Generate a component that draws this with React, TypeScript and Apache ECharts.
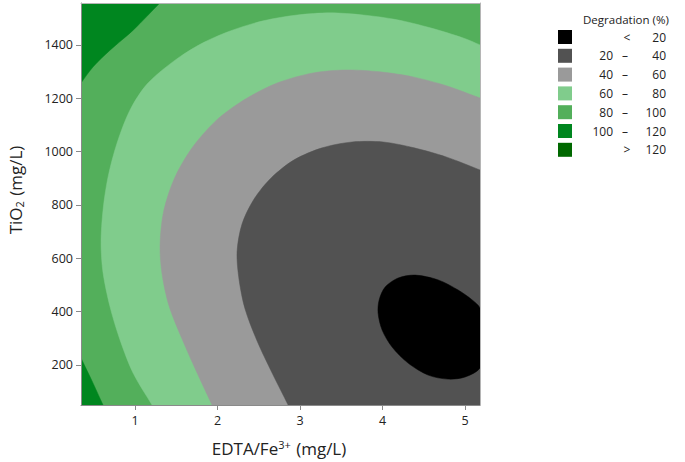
import React, { useEffect, useRef } from "react";
import * as echarts from "echarts";

// Axis ranges and ticks
const edtaRange = [0.345, 5.18];
const tio2Range = [50, 1557];
const edtaTicks = [1, 2, 3, 4, 5];
const tio2Ticks = [200, 400, 600, 800, 1000, 1200, 1400];

// Legend bands
const legendLow = ["", "20", "40", "60", "80", "100", ""];
const legendHigh = ["20", "40", "60", "80", "100", "120", "120"];
const legendPrefix = ["<", "", "", "", "", "", ">"];
const bandColors = ["#000000", "#525252", "#9a9a9a", "#80cc8c", "#53af5b", "#00861f", "#006800"];

// Contour region outlines [EDTA/Fe3+, TiO2]
// (points just past the frame continue each curve; the plot is clipped to the frame)
const region100TopLeft = [
  [0.0, 1800], [1.485, 1614], [1.3, 1557], [0.98, 1456], [0.7, 1381], [0.49, 1317], [0.345, 1257], [0.236, 1209],
];
const region100BottomLeft = [
  [0.261, 282], [0.345, 226], [0.491, 132], [0.612, 50], [0.685, 5], [0.0, -200],
];
const regionBelow80 = [
  [1.315, -6], [1.206, 50], [0.976, 170], [0.818, 294], [0.697, 418], [0.612, 546], [0.588, 658], [0.612, 781],
  [0.673, 905], [0.782, 1032], [0.939, 1156], [1.145, 1253], [1.473, 1340], [1.8, 1404], [2.152, 1452],
  [2.552, 1490], [2.964, 1512], [3.364, 1520], [3.764, 1512], [4.176, 1494], [4.576, 1464], [4.976, 1426],
  [5.18, 1400], [5.424, 1370], [6.0, -300],
];
const regionBelow60 = [
  [2.018, -6], [1.933, 50], [1.752, 170], [1.57, 297], [1.412, 421], [1.327, 541], [1.303, 650], [1.347, 777],
  [1.479, 901], [1.691, 1014], [1.977, 1115], [2.321, 1194], [2.721, 1257], [3.158, 1295], [3.558, 1306],
  [3.97, 1299], [4.37, 1280], [4.782, 1246], [5.18, 1201], [5.424, 1175], [6.0, -300],
];
const regionBelow40 = [
  [2.939, -6], [2.855, 50], [2.661, 170], [2.479, 290], [2.333, 410], [2.261, 519], [2.236, 624], [2.297, 729],
  [2.442, 822], [2.648, 901], [2.927, 969], [3.267, 1014], [3.63, 1036], [4.006, 1036], [4.382, 1014],
  [4.77, 980], [5.18, 931], [5.424, 901], [6.0, -300],
];
const regionBelow20 = [
  [4.394, 537], [4.673, 519], [4.915, 481], [5.085, 444], [5.18, 414], [5.3, 301], [5.18, 189], [5.0, 155],
  [4.794, 147], [4.552, 162], [4.309, 207], [4.115, 267], [3.994, 331], [3.945, 395], [3.958, 444],
  [4.03, 492], [4.188, 526],
];

const regions = [
  { name: "100 – 120 (top)", points: region100TopLeft, color: bandColors[5] },
  { name: "100 – 120 (bottom)", points: region100BottomLeft, color: bandColors[5] },
  { name: "60 – 80", points: regionBelow80, color: bandColors[3] },
  { name: "40 – 60", points: regionBelow60, color: bandColors[2] },
  { name: "20 – 40", points: regionBelow40, color: bandColors[1] },
  { name: "< 20", points: regionBelow20, color: bandColors[0] },
];

const FONT = "'Open Sans', 'Noto Sans', sans-serif";

export default function App() {
  const ref = useRef<HTMLDivElement>(null);

  useEffect(() => {
    if (!ref.current) return;
    const chart = echarts.init(ref.current, null, { renderer: "svg" });

    const legendText = (text: string, x: number, y: number, align: string) => ({
      type: "text",
      x,
      y,
      style: { text, fontSize: 12, fontFamily: FONT, fill: "#222", align, verticalAlign: "middle" },
    });

    const legendGraphics: any[] = [
      {
        type: "text",
        x: 583,
        y: 19.5,
        style: { text: "Degradation (%)", fontSize: 11.5, fontFamily: FONT, fill: "#222", verticalAlign: "middle" },
      },
    ];
    bandColors.forEach((c, i) => {
      const cy = 37 + i * 18.8;
      legendGraphics.push({
        type: "rect",
        shape: { x: 558, y: cy - 7, width: 14, height: 14 },
        style: { fill: c },
      });
      if (legendLow[i]) {
        legendGraphics.push(legendText(legendLow[i], 613, cy, "right"));
        legendGraphics.push(legendText("–", 625, cy, "center"));
      } else {
        legendGraphics.push(legendText(legendPrefix[i], 627, cy, "center"));
      }
      legendGraphics.push(legendText(legendHigh[i], 666, cy, "right"));
    });

    const titleGraphics: any[] = [
      {
        type: "text",
        x: 279,
        y: 448,
        style: {
          text: "EDTA/Fe{sup|3+} (mg/L)",
          fontSize: 17,
          fontFamily: FONT,
          fill: "#222",
          align: "center",
          verticalAlign: "middle",
          rich: {
            sup: { fontSize: 11, fontFamily: FONT, fill: "#222", padding: [0, 1, 8, 0] },
          },
        },
      },
      {
        type: "text",
        x: 15,
        y: 190,
        rotation: Math.PI / 2,
        style: {
          text: "TiO{sub|2} (mg/L)",
          fontSize: 17,
          fontFamily: FONT,
          fill: "#222",
          align: "center",
          verticalAlign: "middle",
          rich: {
            sub: { fontSize: 11, fontFamily: FONT, fill: "#222", padding: [8, 1, 0, 0] },
          },
        },
      },
    ];

    const axisLabelStyle = {
      fontFamily: FONT,
      fontSize: 12.5,
      color: "#222",
      formatter: (v: number) => String(v),
    };

    chart.setOption({
      animation: false,
      backgroundColor: "#ffffff",
      grid: {
        left: 81,
        right: 205,
        top: 3,
        bottom: 57,
        show: true,
        backgroundColor: bandColors[4],
        borderWidth: 0,
      },
      xAxis: [
        {
          type: "value",
          min: edtaRange[0],
          max: edtaRange[1],
          z: 5,
          splitLine: { show: false },
          axisLine: { show: true, onZero: false, lineStyle: { color: "#8a8a8a", width: 1 } },
          axisTick: { show: true, length: 5, customValues: edtaTicks, lineStyle: { color: "#8a8a8a" } },
          axisLabel: { ...axisLabelStyle, margin: 9, customValues: edtaTicks },
        },
        {
          type: "value",
          position: "top",
          min: edtaRange[0],
          max: edtaRange[1],
          z: 5,
          splitLine: { show: false },
          axisLine: { show: true, onZero: false, lineStyle: { color: "#b5b5b5", width: 1 } },
          axisTick: { show: false },
          axisLabel: { show: false },
        },
      ],
      yAxis: [
        {
          type: "value",
          min: tio2Range[0],
          max: tio2Range[1],
          z: 5,
          splitLine: { show: false },
          axisLine: { show: true, onZero: false, lineStyle: { color: "#8a8a8a", width: 1 } },
          axisTick: { show: true, length: 5, customValues: tio2Ticks, lineStyle: { color: "#8a8a8a" } },
          axisLabel: { ...axisLabelStyle, margin: 8, customValues: tio2Ticks },
        },
        {
          type: "value",
          position: "right",
          min: tio2Range[0],
          max: tio2Range[1],
          z: 5,
          splitLine: { show: false },
          axisLine: { show: true, onZero: false, lineStyle: { color: "#b5b5b5", width: 1 } },
          axisTick: { show: false },
          axisLabel: { show: false },
        },
      ],
      series: [
        {
          type: "custom",
          coordinateSystem: "cartesian2d",
          xAxisIndex: 0,
          yAxisIndex: 0,
          silent: true,
          z: 2,
          data: regions.map((r) => ({ name: r.name, value: r.points[1] })),
          renderItem: (params: any, api: any) => {
            const r = regions[params.dataIndex];
            const pts = r.points.map((p) => api.coord(p));
            const cs = params.coordSys;
            return {
              type: "group",
              clipPath: { type: "rect", shape: { x: cs.x, y: cs.y, width: cs.width, height: cs.height } },
              children: [
                {
                  type: "polygon",
                  shape: { points: pts, smooth: 0.3 },
                  style: { fill: r.color, stroke: r.color, lineWidth: 0.5 },
                },
              ],
            };
          },
        },
      ],
      graphic: [...titleGraphics, ...legendGraphics],
    });

    return () => chart.dispose();
  }, []);

  return (
    <div
      ref={ref}
      style={{ position: "absolute", left: 0, top: 0, width: 685, height: 462 }}
    />
  );
}
